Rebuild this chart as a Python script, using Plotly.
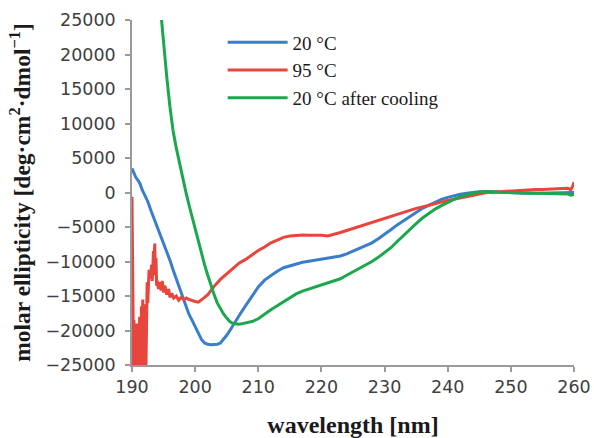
import plotly.graph_objects as go

# ---- data ----
wl_blue = [190.0, 190.3, 190.6, 191.0, 191.3, 191.6, 192.0, 192.5, 193.0, 193.5, 194.0, 194.5, 195.0, 195.5,
           196.0, 196.5, 197.0, 197.5, 198.0, 198.5, 199.0, 199.5, 200.0, 200.5, 201.0, 201.5, 202.0, 202.5,
           203.0, 203.5, 204.0, 204.5, 205.0, 205.5, 206.0, 206.5, 207.0, 208.0, 209.0, 210.0, 211.0, 212.0,
           213.0, 214.0, 215.0, 216.0, 217.0, 218.0, 219.0, 220.0, 221.0, 222.0, 223.0, 224.0, 225.0, 226.0,
           227.0, 228.0, 229.0, 230.0, 231.0, 232.0, 233.0, 234.0, 235.0, 236.0, 237.0, 238.0, 239.0, 240.0,
           241.0, 242.0, 243.0, 244.0, 245.0, 246.0, 247.0, 248.0, 249.0, 250.0, 252.0, 254.0, 256.0, 258.0, 260.0]
cd_blue = [3500, 2800, 2200, 1700, 1200, 400, -300, -1300, -2600, -3800, -4800, -6000, -7200, -8500,
           -9800, -11200, -12500, -14000, -15300, -16600, -17600, -18500, -19500, -20500, -21300, -21800, -22000, -22050,
           -22000, -22000, -21800, -21300, -20700, -20000, -19200, -18500, -17800, -16400, -15000, -13700, -12700, -12000,
           -11400, -10900, -10600, -10300, -10100, -9950, -9800, -9700, -9550, -9400, -9200, -8900, -8500, -8100,
           -7700, -7300, -6700, -6100, -5400, -4700, -4100, -3500, -2900, -2300, -1850, -1400, -1000, -700,
           -450, -250, -100, 50, 100, 150, 100, 50, 0, -50, -100, -100, -50, 0, 0]

wl_red = [190.0, 190.05, 190.1, 190.15, 190.2, 190.25, 190.3, 190.35, 190.4, 190.45, 190.5, 190.55, 190.6, 190.65,
          190.7, 190.75, 190.8, 190.85, 190.9, 190.95, 191.0, 191.05, 191.1, 191.15, 191.2, 191.25, 191.3, 191.4,
          191.5, 191.6, 191.7, 191.8, 191.9, 192.0, 192.1, 192.2, 192.3, 192.4, 192.5, 192.6, 192.7, 192.8,
          192.9, 193.0, 193.1, 193.2, 193.3, 193.4, 193.5, 193.6, 193.7, 193.8, 193.9, 194.0, 194.2, 194.4,
          194.6, 194.8, 195.0, 195.2, 195.5, 195.8, 196.0, 196.3, 196.6, 197.0, 197.4, 197.8, 198.2, 198.6,
          199.0, 199.5, 200.0, 200.5, 201.0, 201.5, 202.0, 202.5, 203.0, 204.0, 205.0, 206.0, 207.0, 208.0,
          209.0, 210.0, 211.0, 212.0, 213.0, 214.0, 215.0, 216.0, 217.0, 218.0, 219.0, 220.0, 221.0, 222.0,
          223.0, 224.0, 225.0, 226.0, 227.0, 228.0, 229.0, 230.0, 231.0, 232.0, 233.0, 234.0, 235.0, 236.0,
          237.0, 238.0, 239.0, 240.0, 241.0, 242.0, 243.0, 244.0, 245.0, 246.0, 247.0, 248.0, 249.0, 250.0,
          251.0, 252.0, 253.0, 254.0, 255.0, 256.0, 257.0, 258.0, 259.0, 259.5, 259.8, 260.0]
cd_red = [-600, -5000, -17500, -18200, -18800, -26000, -18500, -26000, -19500, -26000, -21000, -26000, -19800, -26000,
          -20000, -26000, -19000, -26000, -20500, -26000, -21500, -26000, -20500, -26000, -18000, -26000, -21000, -26000,
          -16500, -26000, -15500, -26000, -18000, -26000, -16200, -26000, -15800, -13000, -16000, -12000, -11200, -11800,
          -12500, -11500, -10500, -12800, -9000, -8500, -10000, -7400, -12000, -9500, -13500, -12800, -14000, -13000,
          -14200, -12800, -14500, -13500, -14800, -14000, -15200, -14600, -15300, -15000, -15600, -15200, -15500, -15300,
          -15500, -15700, -15800, -15900, -15600, -15200, -14800, -14200, -13600, -12600, -11800, -10900, -10200, -9700,
          -9000, -8400, -7900, -7300, -6900, -6500, -6300, -6200, -6150, -6200, -6150, -6200, -6300, -6100,
          -5800, -5500, -5200, -4900, -4700, -4400, -4000, -3700, -3400, -3100, -2800, -2600, -2300, -2100,
          -1900, -1600, -1400, -1150, -950, -750, -550, -350, -200, -50, 50, 120, 150, 200,
          250, 300, 400, 450, 450, 500, 550, 550, 600, 400, 900, 1500]

wl_green = [194.6, 195.0, 195.5, 196.0, 196.5, 197.0, 197.5, 198.0, 198.5, 199.0, 199.5, 200.0, 200.5, 201.0,
            201.5, 202.0, 202.5, 203.0, 203.5, 204.0, 204.5, 205.0, 205.5, 206.0, 206.5, 207.0, 207.5, 208.0,
            209.0, 210.0, 211.0, 212.0, 213.0, 214.0, 215.0, 216.0, 217.0, 218.0, 219.0, 220.0, 221.0, 222.0,
            223.0, 224.0, 225.0, 226.0, 227.0, 228.0, 229.0, 230.0, 231.0, 232.0, 233.0, 234.0, 235.0, 236.0,
            237.0, 238.0, 239.0, 240.0, 241.0, 242.0, 243.0, 244.0, 245.0, 246.0, 247.0, 248.0, 250.0, 252.0,
            254.0, 256.0, 258.0, 259.0, 259.5, 260.0]
cd_green = [25800, 21500, 16800, 12500, 9000, 6500, 4300, 2200, 200, -1700, -3500, -5400, -7200, -8900,
            -10500, -12000, -13500, -14800, -16000, -16900, -17600, -18200, -18700, -19000, -19100, -19100, -19000, -18900,
            -18700, -18300, -17600, -17000, -16400, -15800, -15200, -14700, -14300, -14000, -13700, -13400, -13200, -12900,
            -12500, -12000, -11500, -11000, -10600, -10000, -9400, -8700, -8000, -7100, -6200, -5300, -4500, -3700,
            -3000, -2400, -1900, -1400, -1000, -600, -300, -100, 50, 100, 100, 50, 0, 0,
            -50, -100, -150, -200, -400, -300]

series_names = ["20 \u00b0C", "95 \u00b0C", "20 \u00b0C after cooling"]
series_colors = ["#3a7ecb", "#e8453c", "#1ba84c"]
x_ticks = [190, 200, 210, 220, 230, 240, 250, 260]
y_ticks = [-25000, -20000, -15000, -10000, -5000, 0, 5000, 10000, 15000, 20000, 25000]

fig = go.Figure()
for wl, cd, name, col in zip([wl_blue, wl_red, wl_green], [cd_blue, cd_red, cd_green], series_names, series_colors):
    fig.add_trace(go.Scatter(x=wl, y=cd, mode="lines", name=name,
                             line=dict(color=col, width=3)))

axis_common = dict(showline=True, linecolor="#9a9a9a", linewidth=1.5, showgrid=False, zeroline=False,
                   ticks="outside", ticklen=5, tickwidth=1.5, tickcolor="#9a9a9a", automargin=False,
                   tickfont=dict(family="DejaVu Sans", size=17.5, color="#404040"))

fig.update_layout(
    width=594, height=438,
    margin=dict(l=132, r=20, t=20, b=73),
    paper_bgcolor="white", plot_bgcolor="white",
    xaxis=dict(range=[190, 260], tickvals=x_ticks, ticktext=[str(v) for v in x_ticks],
               title=dict(text="<b>wavelength [nm]</b>", standoff=20,
                          font=dict(family="Liberation Serif", size=24, color="#1a1a1a")),
               **axis_common),
    yaxis=dict(range=[-25000, 25000], tickvals=y_ticks, ticktext=[str(v).replace("-", "\u2212") for v in y_ticks],
               ticklabelstandoff=6,
               title=dict(text="<b>molar ellipticity [deg\u00b7cm<sup>2</sup>\u00b7dmol<sup>\u22121</sup>]</b>",
                          standoff=8,
                          font=dict(family="Liberation Serif", size=23.5, color="#1a1a1a")),
               **axis_common),
    legend=dict(x=0.205, y=0.99, xanchor="left", yanchor="top", bgcolor="rgba(0,0,0,0)",
                itemwidth=60,
                font=dict(family="Liberation Serif", size=19, color="#1a1a1a"), tracegroupgap=4),
    showlegend=True,
)

fig.write_html("out.html")
